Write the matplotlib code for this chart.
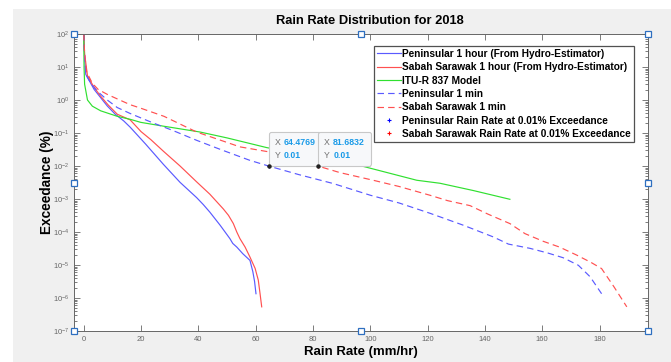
#!/usr/bin/env python

import matplotlib
matplotlib.use('Agg')
import matplotlib.pyplot as plt
from matplotlib.patches import Rectangle
from matplotlib.ticker import LogLocator, NullFormatter
from matplotlib.offsetbox import TextArea, HPacker, VPacker, AnnotationBbox

plt.rcParams['font.family'] = ['Liberation Sans', 'DejaVu Sans']

#---------------------------------- data

# Peninsular 1 hour (Hydro-Estimator)
pen_1h_x = [0, 0.3, 0.7, 3.6, 8.2, 11, 14, 16.2, 21.6, 27.8, 33.6, 39.4,
            41.7, 44, 47.6, 51, 52, 53.4, 55.5, 58, 59, 59.6, 60.1]
pen_1h_p = [100, 20, 6.0, 2.1, 0.66, 0.37, 0.23, 0.15, 0.046, 0.0112,
            3.2e-3, 1.1e-3, 6.8e-4, 4.0e-4, 1.6e-4, 6.3e-5, 4.5e-5, 3.5e-5,
            2.2e-5, 1.38e-5, 6.3e-6, 3.2e-6, 1.35e-6]

# Sabah Sarawak 1 hour (Hydro-Estimator)
sab_1h_x = [0, 0.3, 1.3, 3.5, 5.9, 8.5, 11.7, 16.2, 20, 23.4, 27.8, 33.6,
            39.4, 44, 48.7, 50.5, 52.2, 53.4, 54.5, 56.3, 58, 59.8, 60.9,
            61.5, 62.1]
sab_1h_p = [100, 25, 5.4, 2.5, 1.3, 0.71, 0.37, 0.25, 0.11, 0.063, 0.028,
            0.01, 3.3e-3, 1.4e-3, 5.0e-4, 3.2e-4, 1.8e-4, 1.0e-4, 6.3e-5,
            3.5e-5, 1.74e-5, 7.9e-6, 3.5e-6, 1.4e-6, 5.4e-7]

# ITU-R P.837 model
itu_x = [0, 0.1, 0.3, 1.3, 3, 5.9, 11.7, 16.2, 19.9, 28, 40.6, 50, 63.9,
         80, 97, 116.2, 124.3, 136, 148.7]
itu_p = [100, 10, 3.0, 1.0, 0.65, 0.47, 0.32, 0.26, 0.21, 0.16, 0.107,
         0.071, 0.036, 0.02, 0.01, 3.7e-3, 3.0e-3, 1.8e-3, 9.8e-4]

# Peninsular 1 min
pen_1m_x = [0, 0.3, 0.7, 2.5, 4.7, 8.2, 11.7, 16.2, 24.3, 31, 39.4, 48, 58,
            64.48, 75, 87, 100, 110, 120.8, 132.5, 142.9, 148.2, 155.7, 162,
            167.3, 172.6, 176.7, 180.7]
pen_1m_p = [100, 20, 6.0, 3.2, 1.86, 1.0, 0.59, 0.39, 0.2, 0.12, 0.06,
            0.031, 0.0148, 0.01, 5.5e-3, 2.95e-3, 1.3e-3, 7.6e-4, 3.7e-4,
            1.6e-4, 7.1e-5, 4.3e-5, 3.2e-5, 2.3e-5, 1.66e-5, 9.8e-6, 4.4e-6,
            1.35e-6]

# Sabah Sarawak 1 min
sab_1m_x = [0, 0.3, 1.0, 3.0, 5, 8.2, 12, 16.2, 20, 28, 39.4, 54.5, 64.4,
            72, 81.68, 89.4, 101, 110, 120.8, 127, 134.8, 141, 148.7, 154,
            160.4, 166, 172, 177, 180.7, 185, 189.5]
sab_1m_p = [100, 25, 7.1, 3.2, 2.1, 1.48, 1.05, 0.72, 0.56, 0.32, 0.107,
            0.038, 0.027, 0.0166, 0.01, 6.3e-3, 3.7e-3, 2.4e-3, 1.3e-3,
            8.9e-4, 6.3e-4, 3.5e-4, 1.8e-4, 8.9e-5, 5.2e-5, 3.5e-5, 2.0e-5,
            1.2e-5, 7.8e-6, 2.2e-6, 5.4e-7]

# rain rate at 0.01% exceedance
r001_pen = 64.4769
r001_sab = 81.6832
p001 = 0.01

#---------------------------------- figure

fig = plt.figure(figsize=(6.71, 3.62), dpi=100)
fig.patches.append(Rectangle((13 / 671, 0), 1 - 13 / 671, 353 / 362,
                             transform=fig.transFigure, fc='#f0f0f0',
                             ec='none', zorder=-10))

ax = fig.add_axes([0.1103, 0.0856, 0.855, 0.8205])

blue = '#5a5aff'
red = '#ff5050'
green = '#30e030'
dash = (5.5, 3.5)

ax.plot(pen_1h_x, pen_1h_p, color=blue, lw=0.85,
        label='Peninsular 1 hour (From Hydro-Estimator)')
ax.plot(sab_1h_x, sab_1h_p, color=red, lw=0.85,
        label='Sabah Sarawak 1 hour (From Hydro-Estimator)')
ax.plot(itu_x, itu_p, color=green, lw=0.85, label='ITU-R 837 Model')
ax.plot(pen_1m_x, pen_1m_p, color=blue, lw=0.85, dashes=dash,
        label='Peninsular 1 min')
ax.plot(sab_1m_x, sab_1m_p, color=red, lw=0.85, dashes=dash,
        label='Sabah Sarawak 1 min')
ax.plot([r001_pen], [p001], ls='none', marker='+', ms=3, mew=0.8,
        color='#0000ff', label='Peninsular Rain Rate at 0.01% Exceedance')
ax.plot([r001_sab], [p001], ls='none', marker='+', ms=3, mew=0.8,
        color='#ff0000', label='Sabah Sarawak Rain Rate at 0.01% Exceedance')

#---------------------------------- datatips

for xv in (r001_pen, r001_sab):
    rows = []
    for key, val in (('X', '%s' % xv), ('Y', '0.01')):
        rows.append(HPacker(children=[
            TextArea(key, textprops=dict(size=6.3, color='#707070')),
            TextArea(val, textprops=dict(size=6.3, color='#1b9be8',
                                         weight='bold'))],
            pad=0, sep=2.5, align='baseline'))
    tip = VPacker(children=rows, pad=0, sep=3.0, align='left')
    ab = AnnotationBbox(tip, (xv, p001), xybox=(6, 6),
                        boxcoords='offset pixels', box_alignment=(0, 0),
                        frameon=True, pad=0.4, zorder=7,
                        bboxprops=dict(boxstyle='round,pad=0.4,'
                                                'rounding_size=0.15',
                                       fc='#f7f8fa', ec='#c8c8c8', lw=0.8))
    ax.add_artist(ab)
    ax.plot([xv], [p001], ls='none', marker='o', ms=2.2, color='#222222',
            zorder=8)

#---------------------------------- axes

ax.set_yscale('log')
ax.set_xlim(-3.4, 196.8)
ax.set_ylim(1e-7, 1e2)
ax.set_xticks(range(0, 181, 20))
ax.yaxis.set_major_locator(LogLocator(base=10, numticks=12))
ax.yaxis.set_minor_locator(LogLocator(base=10, subs=range(2, 10),
                                      numticks=12))
ax.yaxis.set_minor_formatter(NullFormatter())

ax.tick_params(which='both', direction='in', top=True, right=True,
               colors='#666666', labelsize=5.5, width=0.6)
ax.tick_params(which='major', length=4)
ax.tick_params(which='minor', length=2)
for s in ax.spines.values():
    s.set_color('#666666')
    s.set_linewidth(0.7)

ax.set_title('Rain Rate Distribution for 2018', fontsize=9.3,
             fontweight='bold', pad=7, x=0.516)
ax.set_xlabel('Rain Rate (mm/hr)', fontsize=9.5, fontweight='bold',
              labelpad=2)
ax.set_ylabel('Exceedance (%)', fontsize=9.8, fontweight='bold',
              labelpad=-1)

leg = ax.legend(loc='upper right', bbox_to_anchor=(0.976, 0.96),
                prop={'weight': 'bold', 'size': 7.3},
                frameon=True, fancybox=False, edgecolor='#262626',
                handlelength=2.3, handletextpad=0.15, labelspacing=0.33,
                borderpad=0.3, borderaxespad=0)
leg.get_frame().set_linewidth(0.9)

# selection handles round the axes
for hx in (0, 0.5, 1):
    for hy in (0, 0.5, 1):
        if hx == 0.5 and hy == 0.5:
            continue
        ax.plot(hx, hy, marker='s', ms=4, mfc='white', mec='#2e6fc0',
                mew=0.9, transform=ax.transAxes, clip_on=False, zorder=10)

plt.savefig('out.png', dpi=100)
